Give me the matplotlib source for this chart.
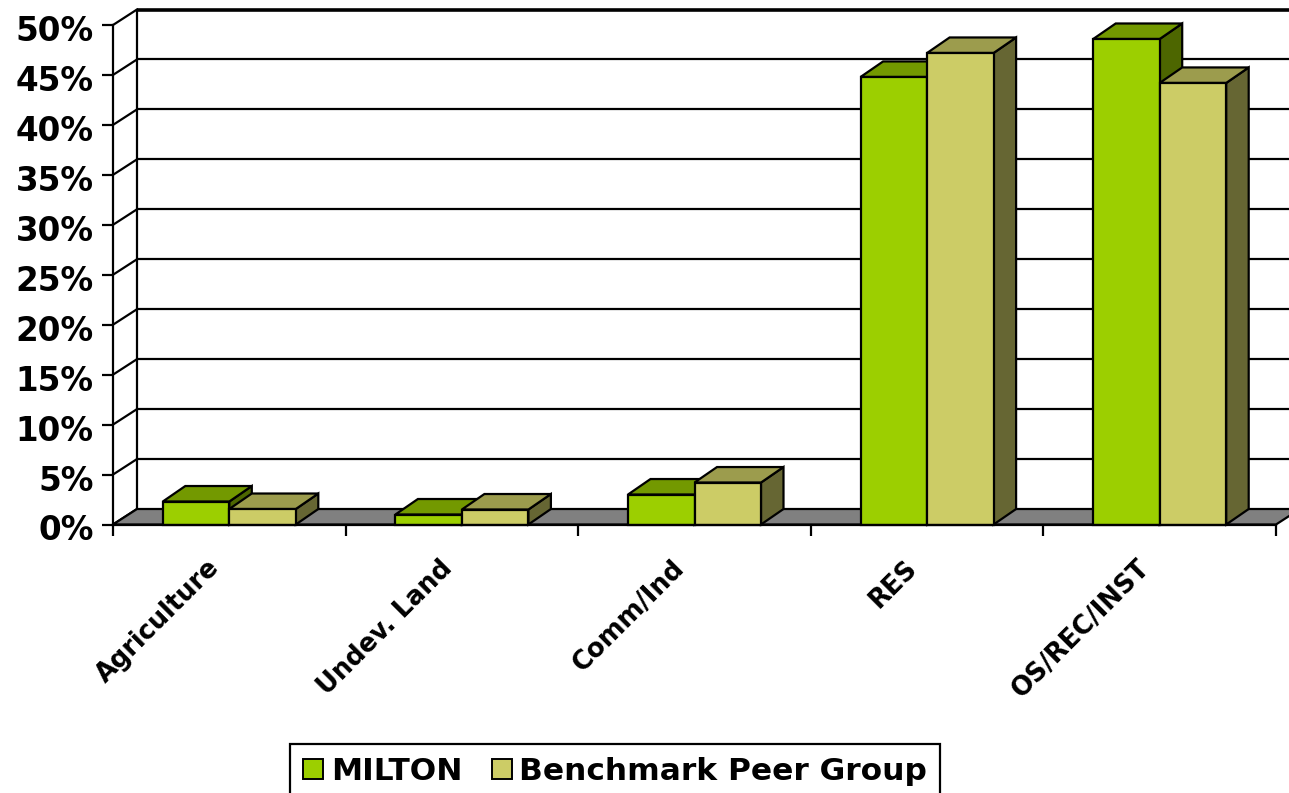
import matplotlib
matplotlib.use("Agg")
import matplotlib.pyplot as plt
from matplotlib.patches import Polygon, Patch
from matplotlib.transforms import ScaledTranslation

categories = ["Agriculture", "Undev. Land", "Comm/Ind", "RES", "OS/REC/INST"]
milton = [2.3, 1.0, 3.0, 44.8, 48.6]
peer = [1.55, 1.5, 4.2, 47.2, 44.2]
series_names = ["MILTON", "Benchmark Peer Group"]
yticks = [0, 5, 10, 15, 20, 25, 30, 35, 40, 45, 50]

W, H = 1289, 793
fig = plt.figure(figsize=(W / 100, H / 100), dpi=100, facecolor="white")
ax = fig.add_axes([113 / W, 1 - 524.5 / H, (1276 - 113) / W, (524.5 - 25) / H])
ax.set_xlim(0, 5)
ax.set_ylim(0, 50)
px_x = 5 / (1276 - 113)
px_y = 50 / (524.5 - 25)

wall_dx, wall_dy = 24 * px_x, 15.5 * px_y
bar_dx, bar_dy = 22.5 * px_x, 15.5 * px_y
bar_w = 66.5 * px_x
LW = 1.6
TEXT = "#000000"

for s in ("top", "right"):
    ax.spines[s].set_visible(False)
for s in ("left", "bottom"):
    ax.spines[s].set_linewidth(LW)
    ax.spines[s].set_zorder(60)
ax.patch.set_alpha(0)

ax.set_yticks(yticks)
ax.set_yticklabels([f"{v}%" for v in yticks], fontsize=23.5, fontweight="bold",
                   family="DejaVu Sans", color=TEXT)
ax.tick_params(axis="y", length=8, width=LW, pad=6)
ax.set_xticks(range(6))
ax.set_xticklabels([])
ax.tick_params(axis="x", which="major", length=8, width=LW)
ax.set_xticks([i + 0.5 for i in range(5)], minor=True)
ax.set_xticklabels(categories, minor=True, rotation=45, ha="right",
                   rotation_mode="anchor", fontsize=18.5, fontweight="bold",
                   family="DejaVu Sans", color=TEXT)
ax.tick_params(axis="x", which="minor", length=0, pad=22)

for lab in ax.get_yticklabels():
    lab.set_transform(lab.get_transform() + ScaledTranslation(0, -3 / 100, fig.dpi_scale_trans))
for lab in ax.get_xticklabels(minor=True):
    lab.set_transform(lab.get_transform() + ScaledTranslation(-23 / 100, 0, fig.dpi_scale_trans))

# floor
ax.add_patch(Polygon([(0, 0), (wall_dx, wall_dy), (5 + wall_dx, wall_dy), (5, 0)],
                     closed=True, facecolor="#808080", edgecolor="black", lw=LW,
                     clip_on=False, zorder=2, joinstyle="miter"))
# back wall, gridlines, diagonals
for v in yticks:
    if v > 0:
        lw = 2.6 if v == 50 else LW
        ax.plot([wall_dx, 5 + wall_dx], [v + wall_dy, v + wall_dy], color="black", lw=lw,
                clip_on=False, zorder=1, solid_capstyle="butt")
    ax.plot([0, wall_dx], [v, v + wall_dy], color="black", lw=LW, clip_on=False, zorder=1)
ax.plot([wall_dx, wall_dx], [wall_dy, 50 + wall_dy], color="black", lw=LW, clip_on=False, zorder=1)


def draw_bar(x, val, front, top, side, z):
    xl, xr = x, x + bar_w
    ax.add_patch(Polygon([(xr, 0), (xr + bar_dx, bar_dy), (xr + bar_dx, val + bar_dy), (xr, val)],
                         closed=True, facecolor=side, edgecolor="black", lw=LW,
                         clip_on=False, zorder=z, joinstyle="miter"))
    ax.add_patch(Polygon([(xl, val), (xl + bar_dx, val + bar_dy), (xr + bar_dx, val + bar_dy), (xr, val)],
                         closed=True, facecolor=top, edgecolor="black", lw=LW,
                         clip_on=False, zorder=z, joinstyle="miter"))
    ax.bar(x, val, bar_w, align="edge", color=front, edgecolor="black", linewidth=LW,
           clip_on=False, zorder=z + 1)


GREEN = ("#9CCF00", "#739900", "#4D6600")
KHAKI = ("#CCCC66", "#9C9C4D", "#666633")
for i, (a, b) in enumerate(zip(milton, peer)):
    c = i + 0.5
    base = 10 + i * 10
    draw_bar(c - bar_w, a, *GREEN, base)
    draw_bar(c, b, *KHAKI, base + 3)

handles = [Patch(facecolor=GREEN[0], edgecolor="black", lw=1.4, label=series_names[0]),
           Patch(facecolor=KHAKI[0], edgecolor="black", lw=1.4, label=series_names[1])]
leg = fig.legend(handles=handles, ncol=2, loc="upper left",
                 bbox_to_anchor=(290 / W, 1 - 744 / H), bbox_transform=fig.transFigure,
                 prop={"family": "DejaVu Sans", "weight": "bold", "size": 22.5},
                 fancybox=False, framealpha=1, edgecolor="black", borderaxespad=0,
                 borderpad=0.42, handlelength=0.63, handleheight=0.63,
                 handletextpad=0.25, columnspacing=0.95, labelspacing=0)
leg.get_frame().set_linewidth(LW)
for t in leg.get_texts():
    t.set_color(TEXT)

fig.savefig("out.png", dpi=100, facecolor="white")
